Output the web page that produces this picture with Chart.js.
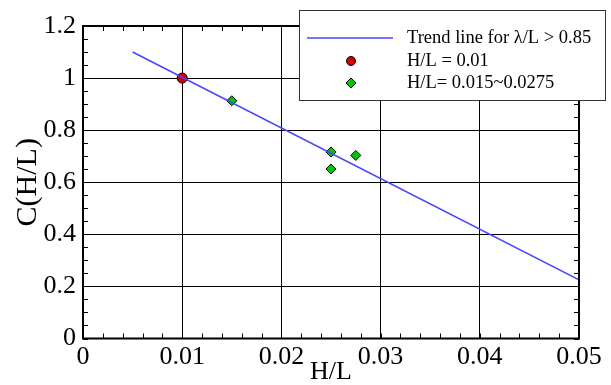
<!DOCTYPE html>
<html>
<head>
<meta charset="utf-8">
<script src="https://cdn.jsdelivr.net/npm/chart.js@4.4.1/dist/chart.umd.min.js"></script>
<style>
  html, body { margin: 0; padding: 0; background: #fff; }
  canvas { display: block; }
</style>
</head>
<body>
<canvas id="chart" width="611" height="385"></canvas>
<script>
// trend line end points
const trendX = [0.005, 0.05];
const trendY = [1.1, 0.225];
// H/L = 0.01 case
const refX = [0.01];
const refY = [1.0];
// H/L = 0.015 ~ 0.0275 cases
const caseX = [0.015, 0.025, 0.025, 0.0275];
const caseY = [0.913, 0.716, 0.651, 0.703];

const legendLabels = ['Trend line for \u03bb/L > 0.85', 'H/L = 0.01', 'H/L= 0.015~0.0275'];

const SERIF = "'Liberation Serif', 'Times New Roman', serif";
const toPts = (xs, ys) => xs.map((x, i) => ({ x, y: ys[i] }));
const isMult = (v, s) => Math.abs(v / s - Math.round(v / s)) < 1e-6;

const BLUE = '#4646ff', RED = '#d60000', GREEN = '#00c800';

function diamond(ctx, x, y, r) {
    ctx.beginPath();
    ctx.moveTo(x - r, y); ctx.lineTo(x, y - r); ctx.lineTo(x + r, y); ctx.lineTo(x, y + r);
    ctx.closePath();
}

const framePlugin = {
    id: 'frame',
    afterDraw(chart) {
        const { ctx, chartArea: a, scales } = chart;
        ctx.save();
        ctx.strokeStyle = '#000';
        ctx.lineWidth = 1;
        // inward tick marks on all four sides
        ctx.beginPath();
        scales.x.ticks.forEach(t => {
            const px = Math.round(scales.x.getPixelForValue(t.value)) + 0.5;
            ctx.moveTo(px, a.bottom); ctx.lineTo(px, a.bottom - 5);
            ctx.moveTo(px, a.top); ctx.lineTo(px, a.top + 5);
        });
        scales.y.ticks.forEach(t => {
            const py = Math.round(scales.y.getPixelForValue(t.value)) + 0.5;
            ctx.moveTo(a.left, py); ctx.lineTo(a.left + 5, py);
            ctx.moveTo(a.right, py); ctx.lineTo(a.right - 5, py);
        });
        ctx.stroke();
        ctx.lineWidth = 2;
        ctx.strokeRect(a.left, a.top, a.right - a.left, a.bottom - a.top);

        // legend box
        const bx = 299, by = 10, bw = 306, bh = 90;
        ctx.fillStyle = '#fff';
        ctx.fillRect(bx, by, bw, bh);
        ctx.lineWidth = 1;
        ctx.strokeStyle = '#333';
        ctx.strokeRect(bx + 0.5, by + 0.5, bw, bh);

        const rows = [38, 61, 83];
        ctx.strokeStyle = BLUE;
        ctx.lineWidth = 1.5;
        ctx.beginPath(); ctx.moveTo(307, rows[0]); ctx.lineTo(393, rows[0]); ctx.stroke();

        ctx.strokeStyle = '#000';
        ctx.lineWidth = 1;
        ctx.fillStyle = RED;
        ctx.beginPath(); ctx.arc(351, rows[1], 4.5, 0, Math.PI * 2); ctx.fill(); ctx.stroke();
        ctx.fillStyle = GREEN;
        diamond(ctx, 351, rows[2], 5); ctx.fill(); ctx.stroke();

        ctx.fillStyle = '#000';
        ctx.font = '18.5px ' + SERIF;
        ctx.textAlign = 'left';
        ctx.textBaseline = 'middle';
        legendLabels.forEach((t, i) => ctx.fillText(t, 407, rows[i]));
        ctx.restore();
    }
};

new Chart(document.getElementById('chart'), {
    type: 'scatter',
    data: {
        datasets: [
            { label: legendLabels[0], data: toPts(trendX, trendY), showLine: true, borderColor: BLUE, borderWidth: 1.5, pointRadius: 0, fill: false },
            { label: legendLabels[1], data: toPts(refX, refY), pointStyle: 'circle', pointRadius: 5, backgroundColor: RED, borderColor: '#000', borderWidth: 1 },
            { label: legendLabels[2], data: toPts(caseX, caseY), pointStyle: 'rectRot', pointRadius: 5, backgroundColor: GREEN, borderColor: '#000', borderWidth: 1 }
        ]
    },
    options: {
        responsive: false,
        animation: false,
        layout: { padding: { top: 26, right: 32, left: 0, bottom: 0 } },
        plugins: { legend: { display: false }, tooltip: { enabled: false } },
        scales: {
            x: {
                type: 'linear', min: 0, max: 0.05,
                afterFit: s => { s.height = 46.5; },
                ticks: {
                    stepSize: 0.002, autoSkip: false, maxRotation: 0, padding: 3,
                    color: '#000', font: { family: SERIF, size: 26 },
                    callback: v => isMult(v, 0.01) ? String(Math.round(v * 1000) / 1000) : ''
                },
                grid: { drawTicks: false, lineWidth: 1, color: c => isMult(c.tick.value, 0.01) ? '#000' : 'rgba(0,0,0,0)' },
                border: { display: false },
                title: { display: true, text: 'H/L', color: '#000', font: { family: SERIF, size: 26, lineHeight: 1 }, padding: { top: 0, bottom: 0 } }
            },
            y: {
                type: 'linear', min: 0, max: 1.2,
                afterFit: s => { s.width = 83; },
                ticks: {
                    stepSize: 0.05, autoSkip: false, padding: 7,
                    color: '#000', font: { family: SERIF, size: 26 },
                    callback: v => isMult(v, 0.2) ? String(Math.round(v * 100) / 100) : ''
                },
                grid: { drawTicks: false, lineWidth: 1, color: c => isMult(c.tick.value, 0.2) ? '#000' : 'rgba(0,0,0,0)' },
                border: { display: false },
                title: { display: true, text: 'C(H/L)', color: '#000', font: { family: SERIF, size: 30, lineHeight: 1 }, padding: { top: 13, bottom: 0 } }
            }
        }
    },
    plugins: [framePlugin]
});
</script>
</body>
</html>
